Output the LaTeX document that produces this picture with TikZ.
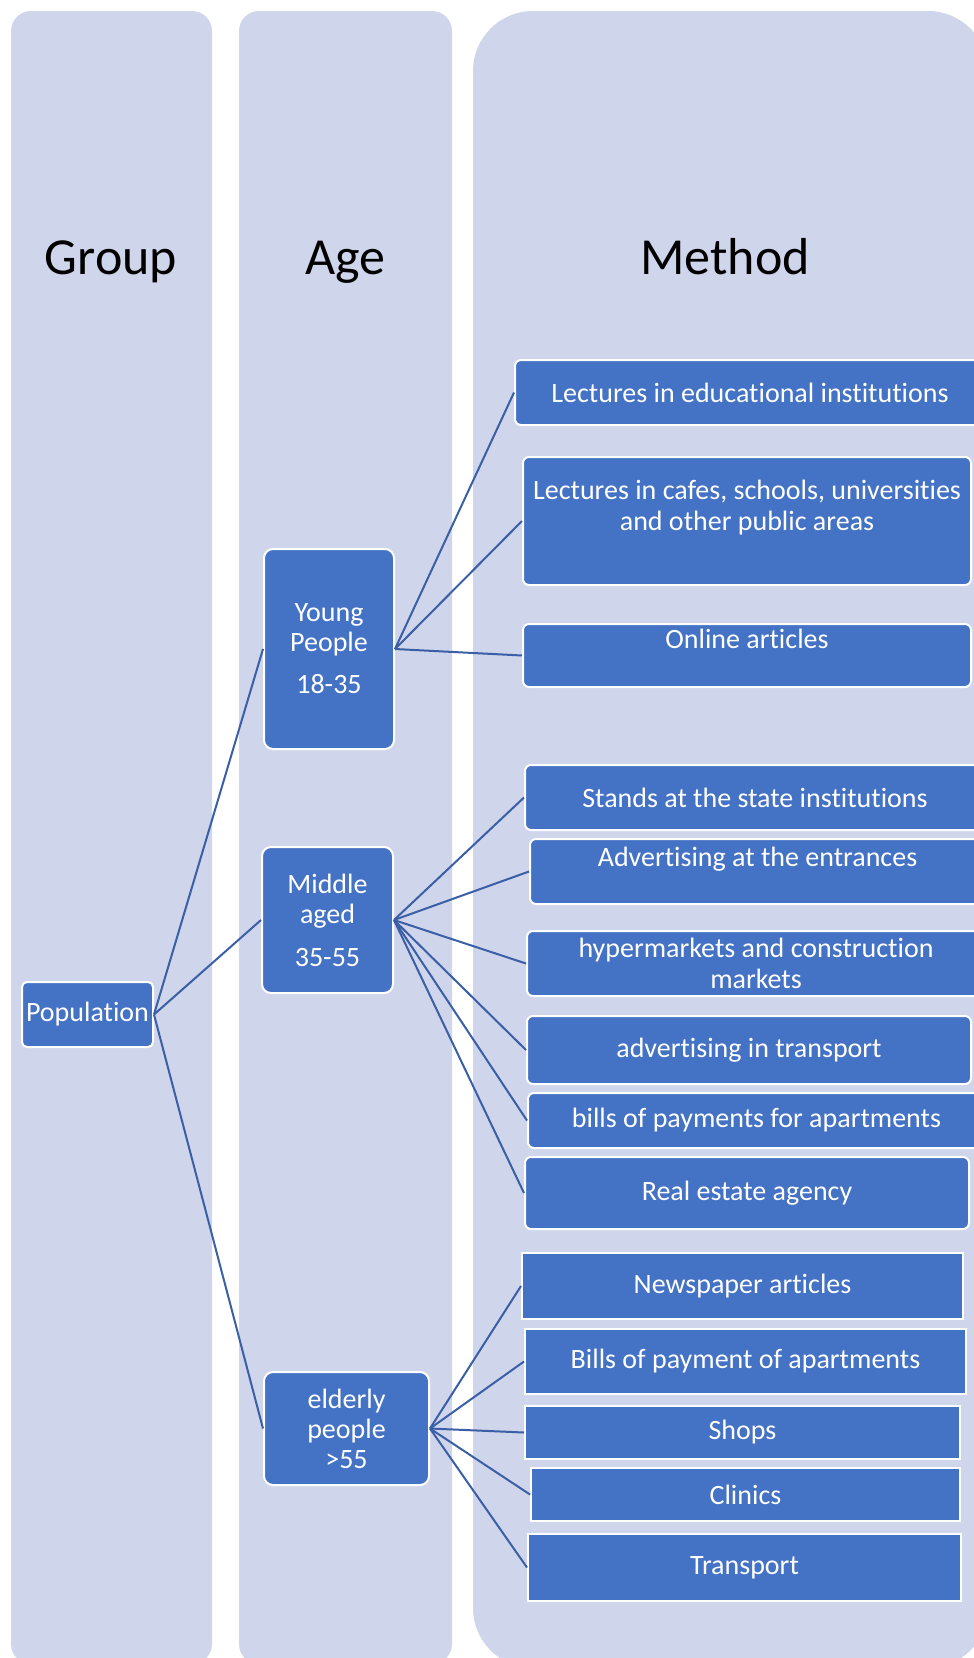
\documentclass[tikz,border=0pt]{standalone}
\usepackage{fontspec}
\setmainfont[Ligatures=NoCommon]{Carlito}
\definecolor{colbg}{HTML}{CFD5EA}
\definecolor{boxfill}{HTML}{4472C4}
\definecolor{linkblue}{HTML}{3A5FA6}
\newcommand{\toptxt}[4]{\parbox[c][#2pt][t]{#1pt}{\centering\rule{0pt}{#3pt}#4}}
\begin{document}
\begin{tikzpicture}[x=1pt,y=-1pt,
    head/.style={anchor=base,font=\fontsize{52}{60}\selectfont},
    box/.style={fill=boxfill,draw=white,line width=2pt,text=white,inner sep=0pt,
      align=center,font=\fontsize{28}{31}\selectfont},
    agebox/.style={box,rounded corners=9pt,font=\fontsize{28}{30}\selectfont},
    methbox/.style={box,rounded corners=6pt},
    oldbox/.style={box},
    link/.style={draw=linkblue,line width=2pt}]
  \useasboundingbox (0,0) rectangle (974,1658);
  \fill[colbg,rounded corners=20pt] (11,11) rectangle (212,1664);
  \fill[colbg,rounded corners=20pt] (239,11) rectangle (452,1664);
  \fill[colbg,rounded corners=60pt] (473,11) rectangle (988,1668);
  \node[head] (hgroup) at (111,274) {Group};
  \node[head] (hage) at (345,274) {Age};
  \node[head] (hmethod) at (725,274) {Method};

  \node[agebox,rounded corners=5pt,minimum width=131,minimum height=65] (pop) at (87.5,1014.5) {Population};
  \node[agebox,minimum width=130,minimum height=200] (young) at (329,649) {Young\\People\\[12pt]18-35};
  \node[agebox,minimum width=131,minimum height=146] (middle) at (327.5,920) {Middle\\aged\\[13pt]35-55};
  \node[agebox,minimum width=165,minimum height=113] (elderly) at (346.5,1428.5) {elderly\\people\\>55};

  \node[methbox,minimum width=470,minimum height=65] (y1) at (750,392.5) {Lectures in educational institutions};
  \node[methbox] (y2) at (747,521) {\toptxt{448}{128}{42}{Lectures in cafes, schools, universities\\and other public areas}};
  \node[methbox] (y3) at (747,655.5) {\toptxt{448}{63}{24}{Online articles}};

  \node[methbox,minimum width=460,minimum height=65] (m1) at (755,797.5) {Stands at the state institutions};
  \node[methbox] (m2) at (757.5,871.5) {\toptxt{455}{65}{27}{Advertising at the entrances}};
  \node[methbox,minimum width=458,minimum height=65] (m3) at (756,963.5) {hypermarkets and construction\\markets};
  \node[methbox,minimum width=444,minimum height=68] (m4) at (749,1050) {advertising in transport};
  \node[methbox,minimum width=457,minimum height=55] (m5) at (756.5,1120.5) {bills of payments for apartments};
  \node[methbox,minimum width=444,minimum height=72] (m6) at (747,1193) {Real estate agency};

  \node[oldbox,minimum width=441,minimum height=66] (e1) at (742.5,1286) {Newspaper articles};
  \node[oldbox,minimum width=441,minimum height=65] (e2) at (745.5,1361.5) {Bills of payment of apartments};
  \node[oldbox,minimum width=435,minimum height=53] (e3) at (742.5,1432.5) {Shops};
  \node[oldbox,minimum width=429,minimum height=53] (e4) at (745.5,1494.5) {Clinics};
  \node[oldbox,minimum width=433,minimum height=67] (e5) at (744.5,1567.5) {Transport};

  \foreach \a in {young,middle,elderly}
    \draw[link] (pop.east)--(\a.west);
  \foreach \m in {y1,y2,y3}
    \draw[link] (young.east)--(\m.west);
  \foreach \m in {m1,m2,m3,m4,m5,m6}
    \draw[link] (middle.east)--(\m.west);
  \foreach \m in {e1,e2,e3,e4,e5}
    \draw[link] (elderly.east)--(\m.west);
\end{tikzpicture}
\end{document}
